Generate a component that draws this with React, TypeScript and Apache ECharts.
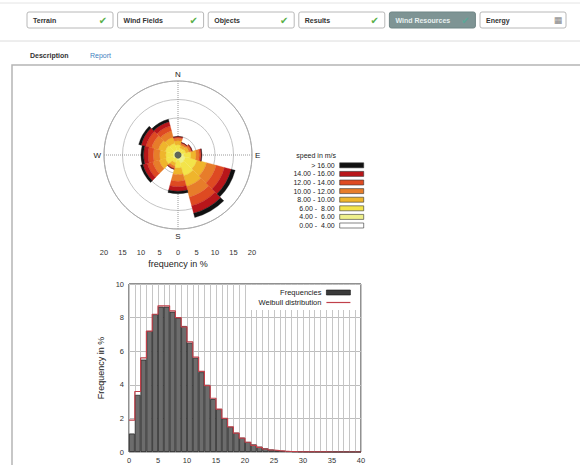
import React, { useEffect, useRef } from 'react';
import * as echarts from 'echarts';

// ---- Wind rose data (12 sectors of 30°, % frequency per speed class) ----
const directions = ['N', 'NNE', 'ENE', 'E', 'ESE', 'SSE', 'S', 'SSW', 'WSW', 'W', 'WNW', 'NNW'];
const speedClasses = ['0.00 -  4.00', '4.00 -  6.00', '6.00 -  8.00', '8.00 - 10.00', '10.00 - 12.00', '12.00 - 14.00', '14.00 - 16.00', '> 16.00'];
const speedColors = ['#ffffff', '#eef08c', '#f3e44a', '#efb52c', '#e77d2a', '#de4a22', '#b8161a', '#111111'];
const class0to4 = [0.25, 0.2, 0.2, 0.3, 0.5, 0.5, 0.3, 0.2, 0.3, 0.3, 0.3, 0.3];
const class4to6 = [1.0, 0.7, 0.8, 1.3, 1.6, 1.8, 1.1, 0.8, 1.1, 1.0, 1.1, 1.0];
const class6to8 = [1.5, 1.05, 1.2, 1.9, 3.2, 3.5, 2.1, 1.2, 2.1, 2.0, 2.2, 2.0];
const class8to10 = [1.1, 0.8, 0.9, 1.4, 2.7, 3.0, 1.8, 0.9, 1.8, 1.7, 1.9, 1.7];
const class10to12 = [0.65, 0.45, 0.5, 0.85, 2.7, 3.0, 1.8, 0.5, 1.8, 1.7, 1.9, 1.7];
const class12to14 = [0.35, 0.2, 0.3, 0.45, 2.3, 2.4, 1.5, 0.3, 1.5, 1.4, 1.6, 1.4];
const class14to16 = [0.15, 0.1, 0.1, 0.2, 1.9, 2.1, 1.2, 0.1, 1.2, 1.2, 1.3, 1.2];
const classAbove16 = [0, 0, 0, 0.1, 1.1, 1.2, 0.7, 0, 0.7, 0.7, 0.7, 0.7];
const roseData = [class0to4, class4to6, class6to8, class8to10, class10to12, class12to14, class14to16, classAbove16];
const compassLabels: Record<number, string> = { 0: 'N', 90: 'E', 180: 'S', 270: 'W' };

// ---- Histogram data (1 m/s bins, 0..40) ----
const binLabels = ['0-1','1-2','2-3','3-4','4-5','5-6','6-7','7-8','8-9','9-10','10-11','11-12','12-13','13-14','14-15','15-16','16-17','17-18','18-19','19-20','20-21','21-22','22-23','23-24','24-25','25-26','26-27','27-28','28-29','29-30','30-31','31-32','32-33','33-34','34-35','35-36','36-37','37-38','38-39','39-40'];
const frequencies = [1.1, 3.4, 5.5, 7.2, 8.2, 8.65, 8.65, 8.35, 8.0, 7.5, 6.5, 5.6, 4.75, 4.0, 3.15, 2.55, 2.0, 1.5, 1.15, 0.85, 0.6, 0.45, 0.32, 0.22, 0.15, 0.1, 0.07, 0.05, 0.03, 0.02, 0.015, 0.01, 0.008, 0.005, 0.004, 0.003, 0.002, 0.001, 0.001, 0.001];
const weibull = [1.9, 3.6, 5.6, 7.2, 8.2, 8.7, 8.7, 8.4, 8.0, 7.45, 6.55, 5.65, 4.8, 3.95, 3.2, 2.55, 2.0, 1.5, 1.12, 0.82, 0.58, 0.4, 0.27, 0.18, 0.12, 0.08, 0.05, 0.03, 0.02, 0.012, 0.008, 0.005, 0.003, 0.002, 0.001, 0.001, 0, 0, 0, 0];

// ---- Page chrome ----
const tabs = ['Terrain', 'Wind Fields', 'Objects', 'Results', 'Wind Resources', 'Energy'];
const selectedTab = 4;

const FONT = 'Liberation Sans, Arial, sans-serif';
const WEIBULL_COLOR = '#c0404a';

export default function App() {
  const ref = useRef<HTMLDivElement>(null);
  useEffect(() => {
    if (!ref.current) return;
    const chart = echarts.init(ref.current, null, { renderer: 'svg' });

    const graphics: any[] = [];
    graphics.push({ type: 'line', shape: { x1: 0, y1: 3, x2: 580, y2: 3 }, style: { stroke: '#e4e4e4', lineWidth: 1 }, silent: true });
    tabs.forEach((t, i) => {
      const x = 27 + i * 90.6;
      const sel = i === selectedTab;
      graphics.push({
        type: 'rect', shape: { x, y: 12, width: 86, height: 16, r: 2 },
        style: { fill: sel ? '#7e9494' : '#ffffff', stroke: sel ? '#6f8585' : '#b8b8b8', lineWidth: 1 },
      });
      graphics.push({
        type: 'text', x: x + 6, y: 20,
        style: { text: t, fontSize: 7, fontWeight: 'bold', fill: sel ? '#e8f0f0' : '#333', fontFamily: FONT, verticalAlign: 'middle', align: 'left' },
      });
      if (i < 5) {
        graphics.push({
          type: 'text', x: x + 76, y: 20,
          style: { text: '✔', fontSize: 10, fill: sel ? '#5aa898' : '#58b048', fontFamily: 'DejaVu Sans', verticalAlign: 'middle', align: 'center' },
        });
      } else {
        graphics.push({
          type: 'text', x: x + 78, y: 20,
          style: { text: '▦', fontSize: 9, fill: '#888', fontFamily: 'DejaVu Sans', verticalAlign: 'middle', align: 'center' },
        });
      }
    });
    graphics.push({ type: 'line', shape: { x1: 0, y1: 41, x2: 580, y2: 41 }, style: { stroke: '#dcdcdc', lineWidth: 1 } });
    graphics.push({ type: 'text', x: 30, y: 55, style: { text: 'Description', fontSize: 7, fontWeight: 'bold', fill: '#333', fontFamily: FONT, verticalAlign: 'middle' } });
    graphics.push({ type: 'text', x: 90, y: 55, style: { text: 'Report', fontSize: 7, fill: '#3f7fc0', fontFamily: FONT, verticalAlign: 'middle' } });
    graphics.push({ type: 'rect', shape: { x: 12, y: 65, width: 580, height: 420 }, style: { fill: 'none', stroke: '#b5b5b5', lineWidth: 1.5 } });
    graphics.push({ type: 'text', x: 336, y: 155, style: { text: 'speed in m/s', fontSize: 7, fill: '#222', fontFamily: FONT, verticalAlign: 'middle', align: 'right' } });
    graphics.push({ type: 'circle', shape: { cx: 178, cy: 155, r: 3.5 }, style: { fill: '#5e655a' }, z: 10 });

    const roseSeries = speedClasses.map((name, k) => ({
      type: 'bar',
      name,
      coordinateSystem: 'polar',
      polarIndex: 0,
      stack: 'rose',
      barCategoryGap: '0%',
      data: roseData[k],
      itemStyle: { color: speedColors[k], borderColor: speedColors[k], borderWidth: 0.3 },
      silent: true,
    }));

    const option: any = {
      animation: false,
      backgroundColor: '#ffffff',
      textStyle: { fontFamily: FONT },
      graphic: graphics,
      polar: [
        { center: [178, 155], radius: 74 },
        { center: [178, 155], radius: 74 },
      ],
      angleAxis: [
        {
          polarIndex: 0, type: 'category', data: directions, startAngle: 105, clockwise: true,
          axisLine: { show: true, lineStyle: { color: '#aaaaaa', width: 1 } },
          axisTick: { show: false }, axisLabel: { show: false }, splitLine: { show: false },
        },
        {
          polarIndex: 1, type: 'value', min: 0, max: 360, interval: 90, startAngle: 90, clockwise: true,
          axisLine: { show: false }, axisTick: { show: false },
          splitLine: { show: true, lineStyle: { color: '#9a9a9a', type: 'dotted', width: 1 } },
          axisLabel: { margin: 3, fontSize: 8, color: '#222', formatter: (v: number) => compassLabels[v] ?? '' },
        },
      ],
      radiusAxis: [
        {
          polarIndex: 0, type: 'value', min: 0, max: 20, interval: 5,
          axisLine: { show: false }, axisTick: { show: false }, axisLabel: { show: false },
          splitLine: { show: true, lineStyle: { color: '#c4c4c4', width: 1 } },
        },
        {
          polarIndex: 1, type: 'value', min: 0, max: 1,
          axisLine: { show: false }, axisTick: { show: false }, axisLabel: { show: false }, splitLine: { show: false },
        },
      ],
      grid: [
        { left: 104, top: 244, width: 148, height: 2 },
        { left: 129, top: 284, width: 232, height: 168, show: true, borderColor: '#222', borderWidth: 1, backgroundColor: 'transparent' },
      ],
      xAxis: [
        {
          gridIndex: 0, type: 'value', min: -20, max: 20, interval: 5,
          axisLine: { show: false }, axisTick: { show: false }, splitLine: { show: false },
          axisLabel: { fontSize: 7.5, color: '#333', margin: 2, formatter: (v: number) => String(Math.abs(v)) },
          name: 'frequency in %', nameLocation: 'middle', nameGap: 13,
          nameTextStyle: { fontSize: 9, color: '#222' },
        },
        {
          gridIndex: 1, type: 'value', min: 0, max: 40, interval: 5,
          axisLine: { show: false }, axisTick: { show: false },
          splitLine: { show: true, lineStyle: { color: '#c6c6c6', width: 1 } },
          minorTick: { show: false, splitNumber: 5 },
          minorSplitLine: { show: true, lineStyle: { color: '#c6c6c6', width: 1 } },
          axisLabel: { fontSize: 7.5, color: '#333', margin: 4 },
        },
        {
          gridIndex: 1, type: 'category', data: binLabels, show: false, boundaryGap: true,
        },
      ],
      yAxis: [
        { gridIndex: 0, type: 'value', show: false },
        {
          gridIndex: 1, type: 'value', min: 0, max: 10, interval: 2,
          axisLine: { show: false }, axisTick: { show: false },
          splitLine: { show: true, lineStyle: { color: '#bdbdbd', width: 1 } },
          axisLabel: { fontSize: 7.5, color: '#333', margin: 5 },
          name: 'Frequency in %', nameLocation: 'middle', nameGap: 24, nameRotate: 90,
          nameTextStyle: { fontSize: 9, color: '#222' },
        },
      ],
      legend: [
        {
          orient: 'vertical', align: 'right', right: 216, top: 161, padding: 0, itemGap: 0,
          itemWidth: 24, itemHeight: 5, selectedMode: false,
          textStyle: { fontSize: 7, color: '#222', lineHeight: 8.6 },
          itemStyle: { borderColor: '#333', borderWidth: 0.6 },
          data: speedClasses.slice().reverse().map((n) => ({ name: n, icon: 'rect' })),
        },
        {
          orient: 'vertical', align: 'right', right: 223, top: 285, padding: [3, 6, 3, 12], itemGap: 1,
          itemWidth: 24, itemHeight: 5, selectedMode: false, backgroundColor: '#ffffff',
          textStyle: { fontSize: 7.5, color: '#222', lineHeight: 9 },
          data: [
            { name: 'Frequencies', icon: 'rect', itemStyle: { color: '#3a3a3a', borderColor: '#111', borderWidth: 0.6 } },
            { name: 'Weibull distribution', itemStyle: { opacity: 0, color: 'transparent', borderWidth: 0 }, lineStyle: { color: WEIBULL_COLOR, width: 1.2, opacity: 1 } },
          ],
        },
      ],
      series: [
        ...roseSeries,
        {
          type: 'bar', name: 'Frequencies', xAxisIndex: 2, yAxisIndex: 1,
          data: frequencies, barCategoryGap: '0%',
          itemStyle: { color: '#6c6c6c', borderColor: '#2a2a2a', borderWidth: 0.8 },
          silent: true,
        },
        {
          type: 'line', name: 'Weibull distribution', xAxisIndex: 1, yAxisIndex: 1,
          data: [...weibull.map((v, i) => [i, v]), [weibull.length, weibull[weibull.length - 1]]],
          step: 'end', symbol: 'none', showSymbol: false,
          lineStyle: { color: WEIBULL_COLOR, width: 1.2 }, itemStyle: { color: WEIBULL_COLOR },
          silent: true, z: 3,
        },
      ],
    };

    chart.setOption(option);
    return () => chart.dispose();
  }, []);

  return (
    <div
      ref={ref}
      style={{ position: 'absolute', left: 0, top: 0, width: 580, height: 465, background: '#fff' }}
    />
  );
}
